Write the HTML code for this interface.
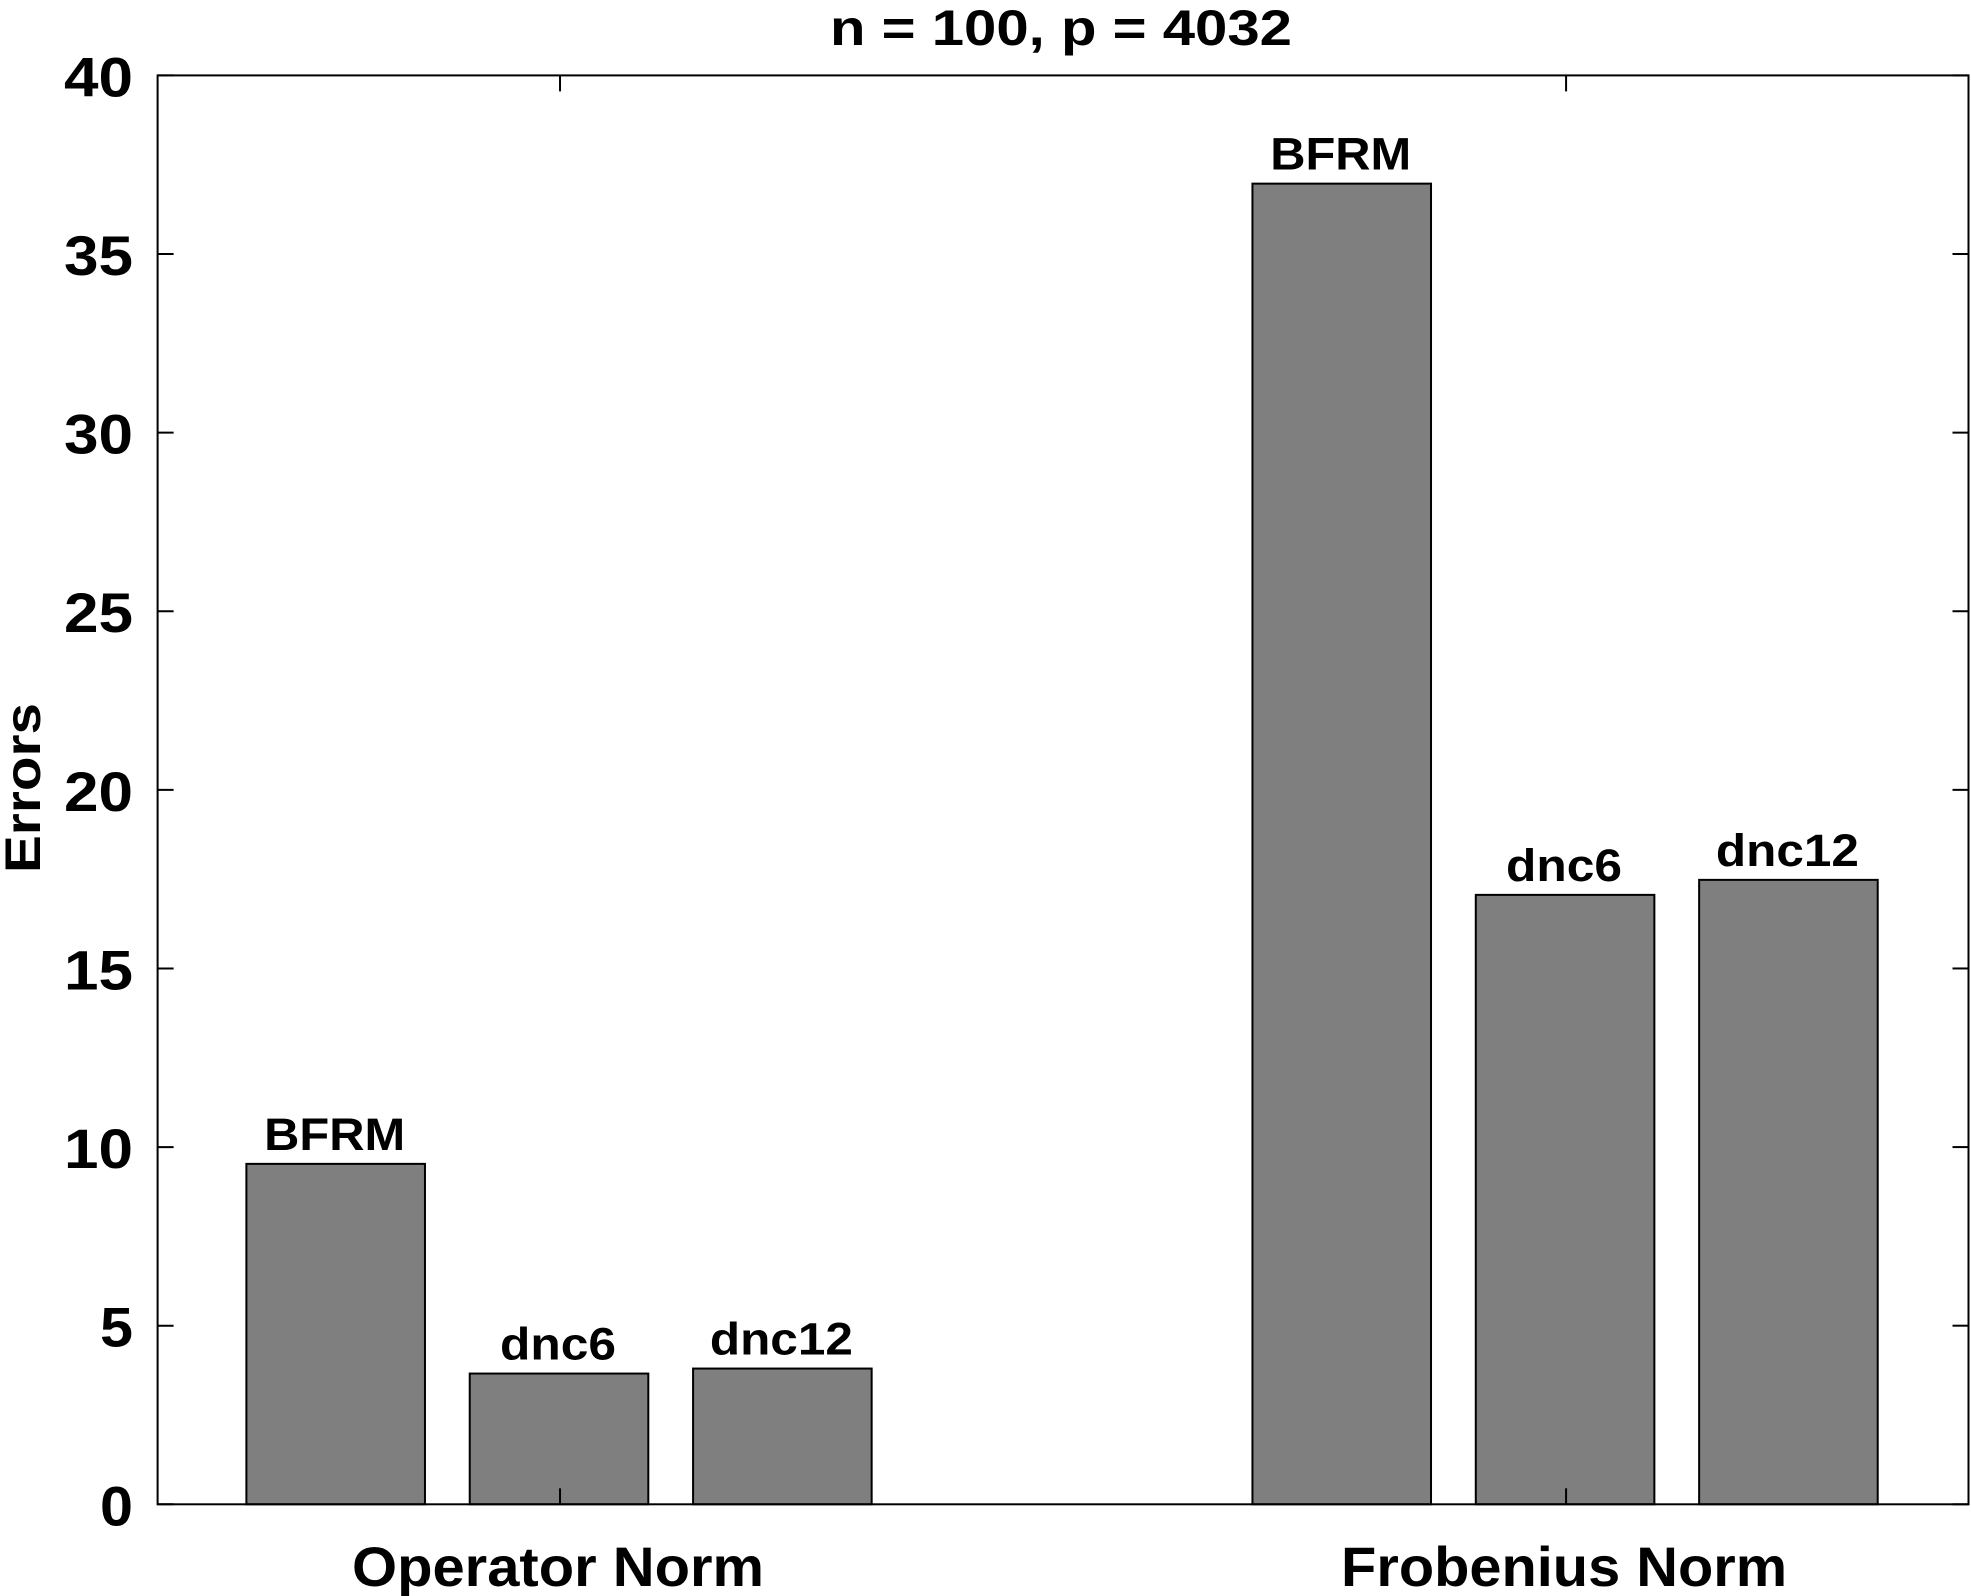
<!DOCTYPE html>
<html><head><meta charset="utf-8"><style>
html,body{margin:0;padding:0;background:#fff;}
svg{display:block;}
text{font-family:"Liberation Sans",Arial,sans-serif;font-weight:bold;fill:#000;}
</style></head><body>
<svg id="chart" width="1971" height="1596" viewBox="0 0 1971 1596" xmlns="http://www.w3.org/2000/svg">
<text x="1061" y="45" font-size="50" text-anchor="middle" textLength="462" lengthAdjust="spacingAndGlyphs">n = 100, p = 4032</text>
<text x="0" y="0" font-size="50" text-anchor="middle" textLength="170" lengthAdjust="spacingAndGlyphs" transform="translate(40,788) rotate(-90)">Errors</text>
<g id="plot"></g>
</svg>
<script>
const categories = ["Operator Norm", "Frobenius Norm"];
const methods = ["BFRM", "dnc6", "dnc12"];
const bfrmValues = [9.53, 36.97];
const dnc6Values = [3.66, 17.06];
const dnc12Values = [3.80, 17.48];
const yTicks = [0, 5, 10, 15, 20, 25, 30, 35, 40];

const L = 157.6, R = 1968.5, T = 75.4, B = 1504.3;
const xMin = 0.6, xMax = 2.4, yMin = 0, yMax = 40;
const xs = v => L + (v - xMin) / (xMax - xMin) * (R - L);
const ys = v => B - (v - yMin) / (yMax - yMin) * (B - T);
const NS = "http://www.w3.org/2000/svg";
const g = document.getElementById("plot");
function mk(tag, attrs, parent) {
  const e = document.createElementNS(NS, tag);
  for (const k in attrs) e.setAttribute(k, attrs[k]);
  (parent || g).appendChild(e);
  return e;
}
const series = [bfrmValues, dnc6Values, dnc12Values];
const offsets = [-0.222, 0, 0.222];
const barW = 0.1775;
const labelWidths = {"BFRM": 141, "dnc6": 116, "dnc12": 143};
categories.forEach((cat, ci) => {
  series.forEach((vals, si) => {
    const c = ci + 1 + offsets[si];
    const x0 = xs(c - barW / 2) - 1, x1 = xs(c + barW / 2) - 1;
    const r = mk("rect", {x: x0, y: ys(vals[ci]), width: x1 - x0, height: ys(0) - ys(vals[ci]), fill: "#7f7f7f", stroke: "#000", "stroke-width": 2});
    
    
    const t = mk("text", {x: xs(c) - 2, y: ys(vals[ci]) - 14, "font-size": 45, "text-anchor": "middle", textLength: labelWidths[methods[si]], lengthAdjust: "spacingAndGlyphs"});
    t.textContent = methods[si];
    
    
  });
  const xl = mk("text", {x: xs(ci + 1) - 2, y: 1586, "font-size": 56, "text-anchor": "middle", textLength: ci === 0 ? 412 : 446, lengthAdjust: "spacingAndGlyphs"});
  xl.textContent = cat;
  
  
  mk("line", {x1: xs(ci + 1), x2: xs(ci + 1), y1: B, y2: B - 16, stroke: "#000", "stroke-width": 2});
  mk("line", {x1: xs(ci + 1), x2: xs(ci + 1), y1: T, y2: T + 16, stroke: "#000", "stroke-width": 2});
});
yTicks.forEach(v => {
  const y = ys(v);
  mk("line", {x1: L, x2: L + 16, y1: y, y2: y, stroke: "#000", "stroke-width": 2});
  mk("line", {x1: R, x2: R - 16, y1: y, y2: y, stroke: "#000", "stroke-width": 2});
  const t = mk("text", {x: 133, y: y + 21, "font-size": 56, "text-anchor": "end", textLength: v >= 10 ? 69 : 33, lengthAdjust: "spacingAndGlyphs"});
  t.textContent = v;
  
  
});
const frame = mk("rect", {x: L, y: T, width: R - L, height: B - T, fill: "none", stroke: "#000", "stroke-width": 2});


</script>
</body></html>
